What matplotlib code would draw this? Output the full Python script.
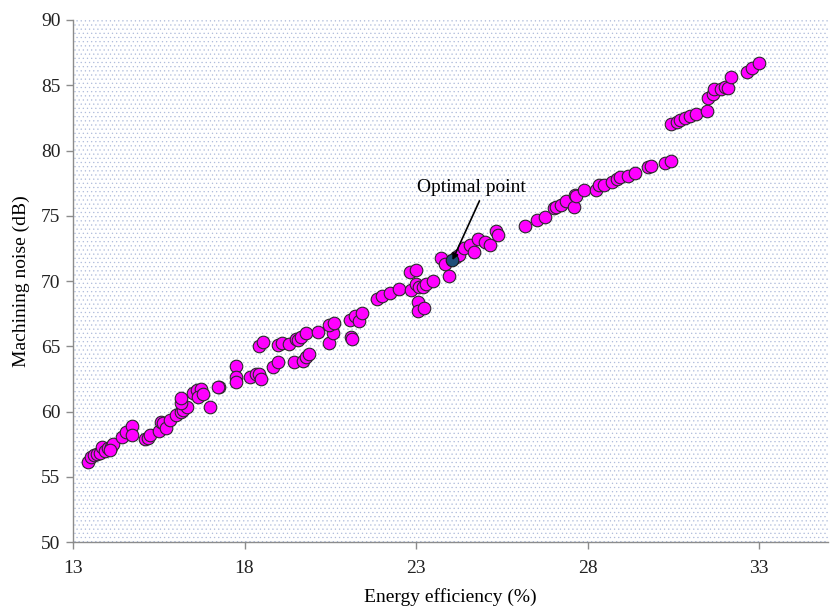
import matplotlib
matplotlib.use("Agg")
import matplotlib.pyplot as plt
from matplotlib.patches import Rectangle

plt.rcParams["font.family"] = ["Liberation Serif", "DejaVu Serif"]
plt.rcParams["hatch.linewidth"] = 0.4

# Pareto front solutions: energy efficiency (%) vs machining noise (dB)
efficiency = [
    13.43, 13.54, 13.62, 13.70, 13.78, 13.86, 13.92, 14.03, 14.10, 14.17, 14.08,
    14.44, 14.56, 14.71, 14.73,
    15.09, 15.18, 15.24, 15.51, 15.56, 15.62, 15.70, 15.84, 16.01, 16.16, 16.22,
    16.31, 16.16, 16.16, 16.50, 16.61, 16.72, 16.65, 16.79, 16.98, 17.27, 17.24,
    17.74, 17.74, 17.76, 18.17, 18.34, 18.42, 18.48, 18.42, 18.53, 18.82, 18.97,
    18.97, 19.09, 19.29, 19.45, 19.50, 19.55, 19.65, 19.79, 19.69, 19.79, 19.89,
    20.15, 20.47, 20.57, 20.47, 20.62,
    21.10, 21.12, 21.07, 21.23, 21.34, 21.42, 21.85, 22.02, 22.24, 22.49, 22.83,
    22.99, 22.84, 22.99, 23.09, 23.21, 23.28, 23.49, 23.06, 23.06, 23.24, 23.74,
    23.84, 23.96,
    24.17, 24.25, 24.40, 24.56, 24.69, 24.81, 25.02, 25.14, 25.33, 25.39, 26.17,
    26.53, 26.75, 27.01, 27.08, 27.23, 27.38, 27.62, 27.59, 27.66, 27.88, 28.24,
    28.34, 28.47, 28.71, 28.85, 28.95, 29.17, 29.39, 29.75, 29.85, 30.24, 30.43,
    30.43, 30.60, 30.69, 30.84, 30.98, 31.15, 31.47, 31.50, 31.66, 31.69, 31.89,
    32.00, 32.08, 32.17, 32.63, 32.78, 33.00,
]
noise = [
    56.11, 56.50, 56.67, 56.76, 56.84, 57.30, 56.95, 57.18, 57.30, 57.48, 57.08,
    58.07, 58.45, 58.89, 58.20,
    57.87, 58.00, 58.20, 58.50, 59.22, 59.10, 58.76, 59.35, 59.73, 59.99, 60.08,
    60.32, 60.67, 61.01, 61.39, 61.65, 61.70, 61.13, 61.32, 60.37, 61.86, 61.90,
    63.49, 62.62, 62.29, 62.67, 62.87, 62.87, 62.47, 65.04, 65.35, 63.43, 63.82,
    65.10, 65.22, 65.15, 63.82, 65.53, 65.48, 65.69, 66.00, 63.89, 64.20, 64.41,
    66.12, 65.22, 65.99, 66.63, 66.76,
    65.73, 65.53, 67.01, 67.32, 66.93, 67.52, 68.62, 68.85, 69.06, 69.36, 70.69,
    70.84, 69.31, 69.75, 69.57, 69.57, 69.77, 70.02, 68.41, 67.72, 67.90, 71.74,
    71.28, 70.38,
    71.86, 71.99, 72.50, 72.76, 72.25, 73.20, 73.01, 72.76, 73.83, 73.53, 74.24,
    74.67, 74.93, 75.57, 75.65, 75.82, 76.15, 76.59, 75.69, 76.51, 76.97, 76.97,
    77.36, 77.36, 77.61, 77.79, 77.94, 78.07, 78.30, 78.71, 78.84, 79.02, 79.22,
    82.03, 82.21, 82.34, 82.47, 82.64, 82.80, 83.05, 84.00, 84.33, 84.69, 84.69,
    84.89, 84.77, 85.66, 85.99, 86.30, 86.73,
]

# Selected compromise solution
optimal_efficiency = 24.06
optimal_noise = 71.6

x_ticks = [13, 18, 23, 28, 33]
y_ticks = [50, 55, 60, 65, 70, 75, 80, 85, 90]

fig = plt.figure(figsize=(8.32, 6.06), dpi=100)
ax = fig.add_axes([0.0877, 0.1056, 0.9073, 0.8614])

# Dotted plot-area background
ax.add_patch(Rectangle((0, 0), 1, 1, transform=ax.transAxes, facecolor="white",
                       edgecolor="#aebbdb", hatch="....", lw=0, zorder=0))

ax.scatter(efficiency, noise, s=82, c="#ff00ff", edgecolors="#2a2a2a",
           linewidths=0.8, zorder=3)
ax.scatter([optimal_efficiency], [optimal_noise], s=82, c="#1f4e79",
           edgecolors="#1a1a1a", linewidths=0.8, zorder=4)

ax.annotate("Optimal point", xy=(optimal_efficiency, optimal_noise),
            xytext=(24.6, 77.2), ha="center", va="center", fontsize=14,
            arrowprops=dict(arrowstyle="-|>", color="black", lw=1.2,
                            mutation_scale=9, shrinkA=2, shrinkB=0,
                            relpos=(0.6, 0.0)),
            zorder=5)

ax.set_xlim(13, 35)
ax.set_ylim(50, 90)
ax.set_xticks(x_ticks)
ax.set_yticks(y_ticks)
ax.set_xlabel("Energy efficiency (%)", fontsize=14, labelpad=8)
ax.set_ylabel("Machining noise (dB)", fontsize=14, labelpad=8)

for side in ("top", "right"):
    ax.spines[side].set_visible(False)
for side in ("left", "bottom"):
    ax.spines[side].set_color("#8c8c8c")
    ax.spines[side].set_linewidth(1.0)
ax.tick_params(axis="both", direction="out", length=5, width=1.0,
               color="#8c8c8c", labelsize=14, labelcolor="#222222")
ax.tick_params(axis="x", pad=8)
ax.tick_params(axis="y", pad=4)

fig.savefig("out.png", dpi=100)
